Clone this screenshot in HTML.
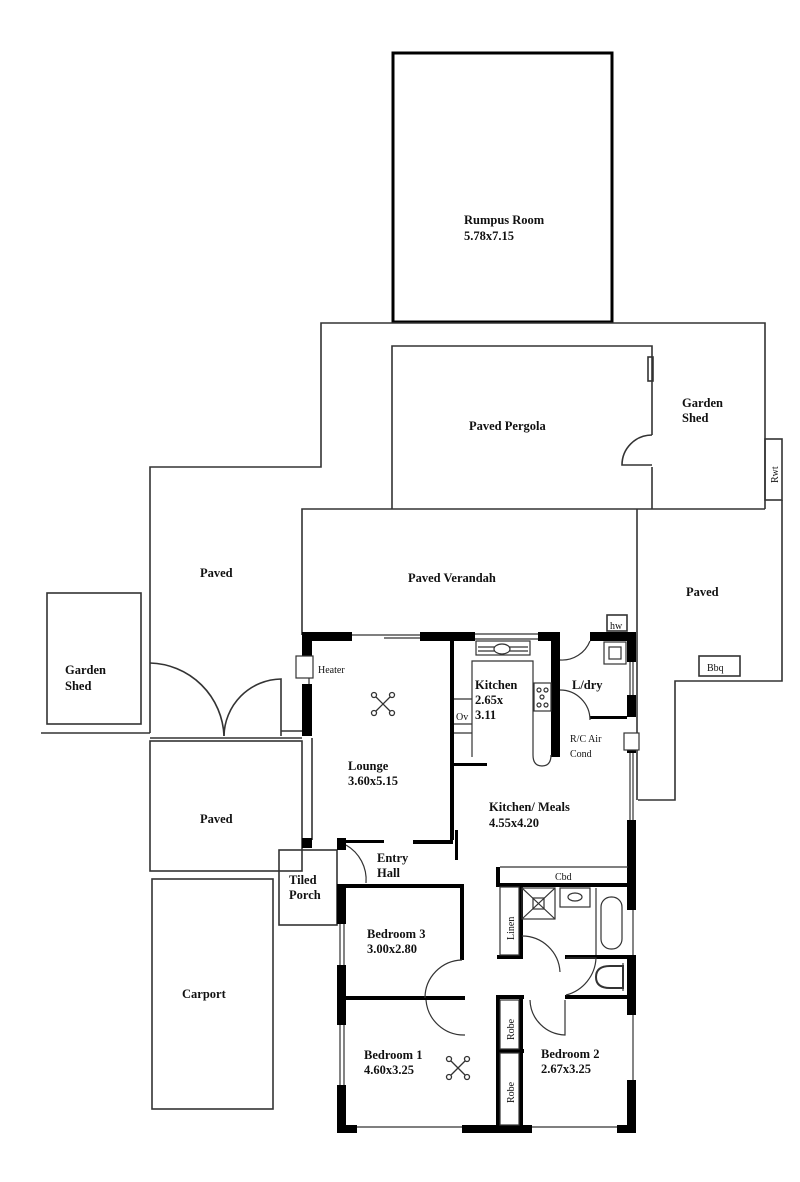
<!DOCTYPE html>
<html><head><meta charset="utf-8"><style>
html,body{margin:0;padding:0;background:#fff;}
svg{display:block;}
text{font-family:"Liberation Serif",serif;font-weight:bold;font-size:12.5px;fill:#111;}
.s{font-size:10px;font-weight:normal;}
</style></head><body>
<svg width="800" height="1182" viewBox="0 0 800 1182" xmlns="http://www.w3.org/2000/svg">
<g fill="none" stroke="#333" stroke-width="1.6">
<rect x="393" y="53" width="219" height="269" stroke="#000" stroke-width="3"/>
<polyline points="150,733 150,467 321,467 321,323 765,323 765,509"/>
<polyline points="392,509 392,346 652,346 652,435"/>
<line x1="652" y1="467" x2="652" y2="509"/>
<path d="M652,435 A30,30 0 0 0 622,465 L652,465"/>
<rect x="648" y="357" width="5" height="24"/>
<rect x="765" y="439" width="17" height="61"/>
<polyline points="782,500 782,681 675,681 675,800 638,800"/>
<polyline points="302,635 302,509 765,509"/>
<line x1="637" y1="509" x2="637" y2="800"/>
<rect x="699" y="656" width="41" height="20"/>
<rect x="607" y="615" width="20" height="16"/>
<rect x="47" y="593" width="94" height="131"/>
<line x1="41" y1="733" x2="150" y2="733"/>
<path d="M150,663 A76,76 0 0 1 224,736"/>
<path d="M224,736 A58,58 0 0 1 281,679 L281,736"/>
<line x1="150" y1="738" x2="302" y2="738"/>
<line x1="281" y1="731" x2="302" y2="731"/>
<rect x="150" y="741" width="152" height="130"/>
<rect x="152" y="879" width="121" height="230"/>
<rect x="279" y="850" width="58" height="75"/>
<line x1="312" y1="738" x2="312" y2="840"/>
</g>
<g fill="#000">
<rect x="302" y="632" width="50" height="9"/>
<rect x="302" y="632" width="10" height="30"/>
<rect x="302" y="684" width="10" height="52"/>
<rect x="420" y="632" width="55" height="9"/>
<rect x="538" y="632" width="22" height="9"/>
<rect x="551" y="632" width="9" height="125"/>
<rect x="590" y="632" width="46" height="9"/>
<rect x="627" y="632" width="9" height="30"/>
<rect x="627" y="695" width="9" height="22"/>
<rect x="627" y="745" width="9" height="8"/>
<rect x="627" y="820" width="9" height="90"/>
<rect x="627" y="955" width="9" height="60"/>
<rect x="627" y="1080" width="9" height="53"/>
<rect x="302" y="838" width="10" height="10"/>
<rect x="337" y="838" width="9" height="12"/>
<rect x="337" y="884" width="9" height="40"/>
<rect x="337" y="965" width="9" height="60"/>
<rect x="337" y="1085" width="9" height="48"/>
<rect x="337" y="1125" width="20" height="8"/>
<rect x="462" y="1125" width="70" height="8"/>
<rect x="617" y="1125" width="19" height="8"/>
<rect x="346" y="884" width="117" height="4"/>
<rect x="460" y="884" width="4" height="76"/>
<rect x="346" y="996" width="119" height="4"/>
<rect x="496" y="995" width="28" height="4"/>
<rect x="496" y="995" width="4" height="130"/>
<rect x="519" y="995" width="4" height="130"/>
<rect x="496" y="1049" width="28" height="4"/>
<rect x="565" y="995" width="66" height="4"/>
<rect x="496" y="883" width="135" height="4"/>
<rect x="496" y="867" width="4" height="18"/>
<rect x="519" y="887" width="4" height="72"/>
<rect x="497" y="955" width="25" height="4"/>
<rect x="565" y="955" width="66" height="4"/>
<rect x="450" y="641" width="4" height="199"/>
<rect x="454" y="763" width="33" height="3"/>
<rect x="455" y="830" width="3" height="30"/>
<rect x="590" y="716" width="37" height="3"/>
<rect x="413" y="840" width="40" height="4"/>
<rect x="346" y="840" width="38" height="3"/>
</g>
<g fill="none" stroke="#333" stroke-width="1.2">
<line x1="352" y1="635" x2="420" y2="635"/><line x1="384" y1="638" x2="420" y2="638"/>
<line x1="475" y1="634" x2="538" y2="634"/><line x1="475" y1="639" x2="538" y2="639"/>
<line x1="633" y1="662" x2="633" y2="695"/><line x1="630" y1="662" x2="630" y2="695"/>
<line x1="633" y1="753" x2="633" y2="820"/><line x1="630" y1="753" x2="630" y2="820"/>
<line x1="633" y1="910" x2="633" y2="955"/><line x1="633" y1="1015" x2="633" y2="1080"/>
<line x1="340" y1="924" x2="340" y2="965"/><line x1="344" y1="924" x2="344" y2="965"/>
<line x1="340" y1="1025" x2="340" y2="1085"/><line x1="344" y1="1025" x2="344" y2="1085"/>
<line x1="357" y1="1127" x2="462" y2="1127"/><line x1="532" y1="1127" x2="617" y2="1127"/>
<line x1="309" y1="662" x2="309" y2="684"/>
<rect x="296" y="656" width="17" height="22" fill="#fff"/>
<rect x="624" y="733" width="15" height="17" fill="#fff"/>
<rect x="476" y="641" width="54" height="14"/>
<line x1="478" y1="647" x2="528" y2="647"/><line x1="478" y1="651" x2="528" y2="651"/>
<ellipse cx="502" cy="649" rx="8" ry="5" fill="#fff"/>
<polyline points="472,757 472,661 533,661 533,755"/>
<path d="M533,755 Q533,766 542,766 Q551,766 551,755"/>
<rect x="534" y="683" width="17" height="28"/>
<circle cx="539" cy="690" r="2"/><circle cx="546" cy="690" r="2"/><circle cx="539" cy="705" r="2"/><circle cx="546" cy="705" r="2"/><circle cx="542" cy="697" r="2"/>
<line x1="454" y1="699" x2="472" y2="699"/><line x1="454" y1="724" x2="472" y2="724"/><line x1="454" y1="733" x2="472" y2="733"/>
<rect x="604" y="642" width="22" height="22"/><rect x="609" y="647" width="12" height="12"/>
<path d="M560,660 A30,30 0 0 0 590,641"/>
<path d="M560,690 A30,30 0 0 1 590,720"/>
<path d="M346,845 A40,40 0 0 1 366,883"/>
<path d="M462,960 A38,38 0 0 0 425,998"/>
<path d="M426,1000 A38,38 0 0 0 465,1035"/>
<path d="M522,936 A38,38 0 0 1 560,972"/>
<path d="M566,958 L596,958 A40,40 0 0 1 566,995"/>
<path d="M530,1000 A36,36 0 0 0 565,1035 L565,1000"/>
<rect x="522" y="888" width="33" height="31"/><line x1="522" y1="888" x2="555" y2="919"/><line x1="555" y1="888" x2="522" y2="919"/><rect x="533" y="898" width="11" height="11"/>
<rect x="560" y="888" width="30" height="19"/><ellipse cx="575" cy="897" rx="7" ry="4"/>
<line x1="596" y1="888" x2="596" y2="955"/>
<rect x="601" y="897" width="21" height="52" rx="10"/>
<path d="M610,966 Q596,966 596,977 Q596,988 610,988 L623,988 L623,966 Z" stroke-width="2"/>
<line x1="623" y1="963" x2="623" y2="991"/>
<g stroke-width="1.3">
<path d="M376,697 L390,711 M390,697 L376,711"/><circle cx="374" cy="695" r="2.5"/><circle cx="392" cy="695" r="2.5"/><circle cx="374" cy="713" r="2.5"/><circle cx="392" cy="713" r="2.5"/>
<path d="M451,1061 L465,1075 M465,1061 L451,1075"/><circle cx="449" cy="1059" r="2.5"/><circle cx="467" cy="1059" r="2.5"/><circle cx="449" cy="1077" r="2.5"/><circle cx="467" cy="1077" r="2.5"/>
</g>
<rect x="500" y="1000" width="19" height="49"/><rect x="500" y="1053" width="19" height="72"/>
<rect x="500" y="887" width="19" height="68"/>
<line x1="500" y1="867" x2="628" y2="867"/>
</g>
<g>
<text x="464" y="224">Rumpus Room</text><text x="464" y="240">5.78x7.15</text>
<text x="469" y="430">Paved Pergola</text>
<text x="682" y="407">Garden</text><text x="682" y="422">Shed</text>
<text x="200" y="577">Paved</text>
<text x="408" y="582">Paved Verandah</text>
<text x="686" y="596">Paved</text>
<text x="65" y="674">Garden</text><text x="65" y="690">Shed</text>
<text x="200" y="823">Paved</text>
<text x="348" y="770">Lounge</text><text x="348" y="785">3.60x5.15</text>
<text x="475" y="689">Kitchen</text><text x="475" y="704">2.65x</text><text x="475" y="719">3.11</text>
<text x="572" y="689">L/dry</text>
<text x="489" y="811">Kitchen/ Meals</text><text x="489" y="827">4.55x4.20</text>
<text x="377" y="862">Entry</text><text x="377" y="877">Hall</text>
<text x="289" y="884">Tiled</text><text x="289" y="899">Porch</text>
<text x="367" y="938">Bedroom 3</text><text x="367" y="953">3.00x2.80</text>
<text x="182" y="998">Carport</text>
<text x="364" y="1059">Bedroom 1</text><text x="364" y="1074">4.60x3.25</text>
<text x="541" y="1058">Bedroom 2</text><text x="541" y="1073">2.67x3.25</text>
<text class="s" x="318" y="673">Heater</text>
<text class="s" x="570" y="742">R/C Air</text><text class="s" x="570" y="757">Cond</text>
<text class="s" x="456" y="720">Ov</text>
<text class="s" x="555" y="880">Cbd</text>
<text class="s" x="610" y="629">hw</text>
<text class="s" x="707" y="671">Bbq</text>
<text class="s" transform="translate(778,483) rotate(-90)">Rwt</text>
<text class="s" transform="translate(514,940) rotate(-90)">Linen</text>
<text class="s" transform="translate(514,1040) rotate(-90)">Robe</text>
<text class="s" transform="translate(514,1103) rotate(-90)">Robe</text>
</g>
</svg>
</body></html>
